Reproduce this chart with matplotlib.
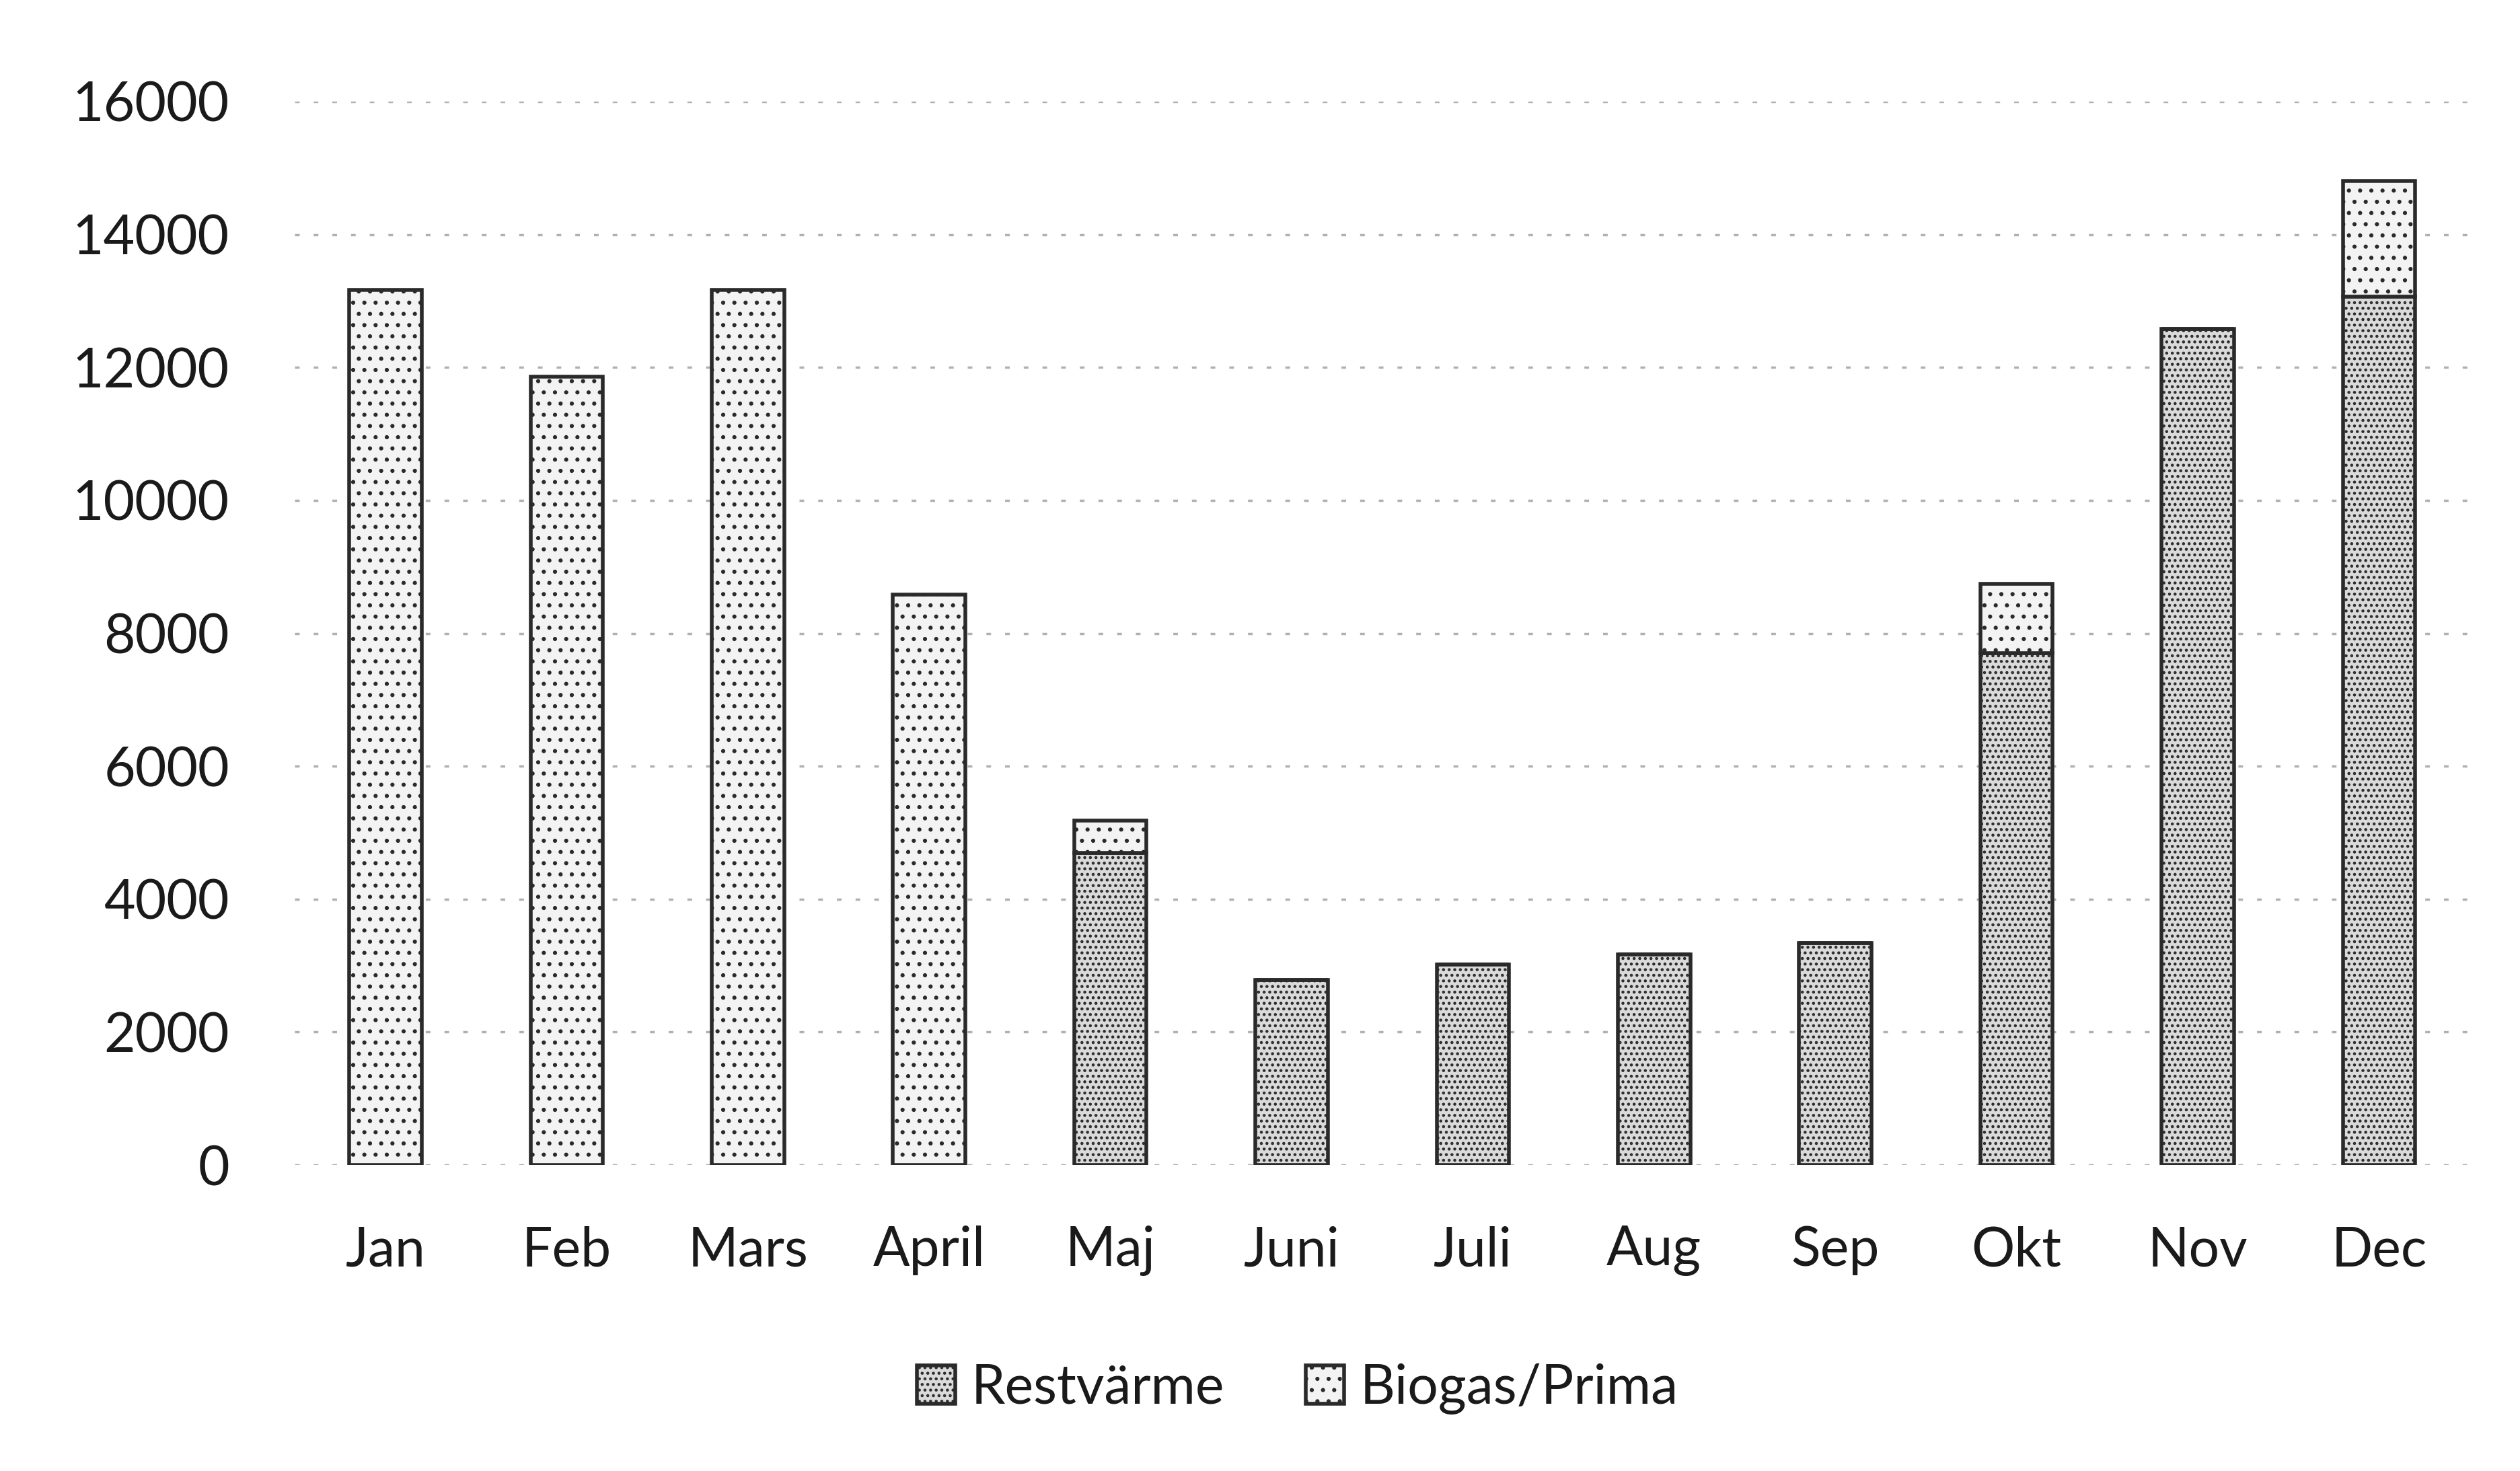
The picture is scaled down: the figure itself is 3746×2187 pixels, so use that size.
import numpy as np
import matplotlib
matplotlib.use('Agg')
import matplotlib.pyplot as plt

plt.rcParams['font.family'] = ['Lato', 'DejaVu Sans']
plt.rcParams['hatch.linewidth'] = 2.0
plt.rcParams['hatch.color'] = '#8c8c8c'

months = ['Jan', 'Feb', 'Mars', 'April', 'Maj', 'Juni', 'Juli', 'Aug', 'Sep', 'Okt', 'Nov', 'Dec']
restvarme = [0, 0, 0, 0, 4700, 2780, 3020, 3170, 3340, 7700, 12580, 13060]
biogas = [13170, 11860, 13170, 8580, 480, 0, 0, 0, 0, 1040, 0, 1750]
yticks = [0, 2000, 4000, 6000, 8000, 10000, 12000, 14000, 16000]

fig = plt.figure(figsize=(37.46, 21.87), dpi=100)
ax = fig.add_axes([0.117, 0.208, 0.863, 0.723])

x = np.arange(len(months))
ax.bar(x, restvarme, width=0.4, color='#dadada', edgecolor='#2a2a2a',
       linewidth=4, hatch='..', label='Restvärme', zorder=3)
ax.bar(x, biogas, width=0.4, bottom=restvarme, color='#f3f3f3', edgecolor='#2a2a2a',
       linewidth=4, hatch='.', label='Biogas/Prima', zorder=3)

ax.set_ylim(0, 16000)
ax.set_xlim(-0.5, len(months) - 0.5)
ax.set_yticks(yticks)
ax.set_yticklabels([str(v) for v in yticks])
ax.set_xticks(x)
ax.set_xticklabels(months)
ax.tick_params(axis='both', length=0, labelsize=58, colors='#1a1a1a')
ax.tick_params(axis='y', pad=70)
ax.tick_params(axis='x', pad=65)
ax.yaxis.grid(True, color='#b0b0b0', linestyle=(0, (2, 6)), linewidth=2.5, zorder=0)
for s in ax.spines.values():
    s.set_visible(False)

leg = fig.legend(loc='center', bbox_to_anchor=(0.515, 0.056), ncol=2, frameon=False,
                 fontsize=58, handlelength=0.7, handleheight=0.7, columnspacing=1.5,
                 handletextpad=0.3)
for t in leg.get_texts():
    t.set_color('#1a1a1a')

fig.savefig('out.png', dpi=100)
